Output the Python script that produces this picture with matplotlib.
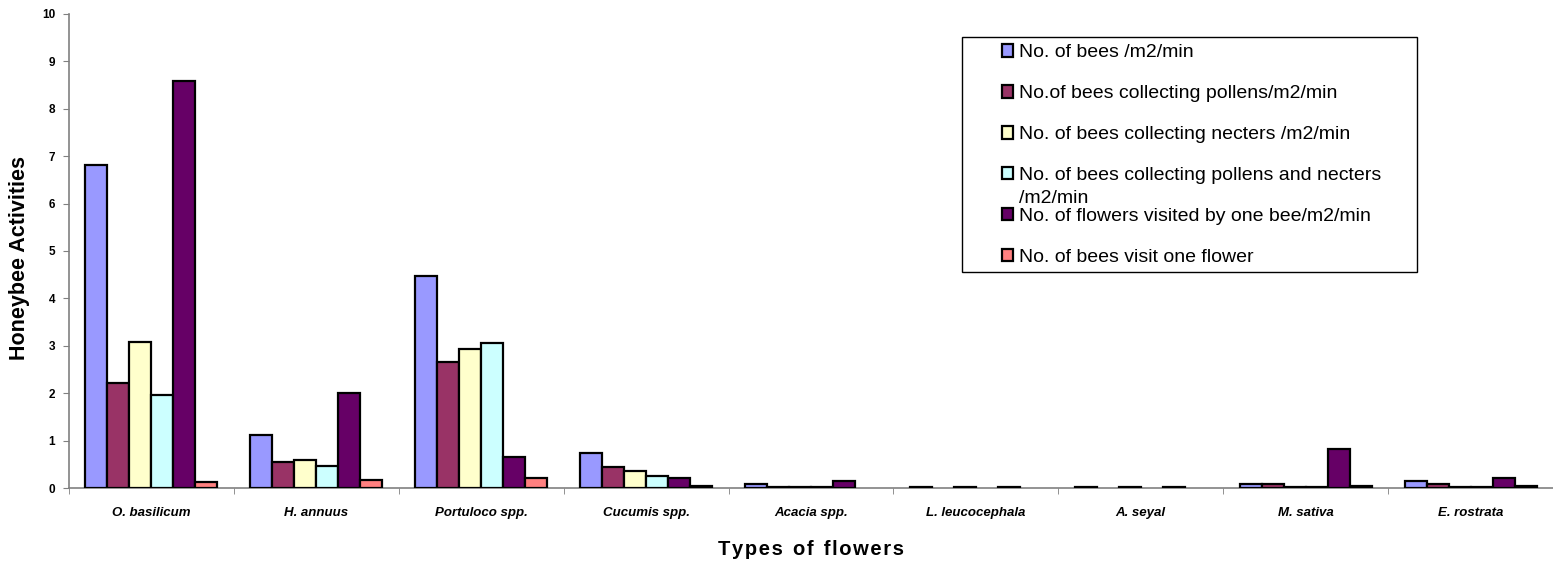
import matplotlib.pyplot as plt
from matplotlib.patches import Rectangle
import numpy as np

plt.rcParams['font.family'] = ['Liberation Sans', 'DejaVu Sans']

flowers = ["O. basilicum", "H. annuus", "Portuloco spp.", "Cucumis spp.",
           "Acacia spp.", "L. leucocephala", "A. seyal", "M. sativa", "E. rostrata"]

series_names = [
    "No. of bees /m2/min",
    "No.of bees collecting pollens/m2/min",
    "No. of bees collecting necters /m2/min",
    "No. of bees collecting pollens and necters",
    "No. of flowers visited by one bee/m2/min",
    "No. of bees visit one flower",
]

nan = np.nan
bees = [6.82, 1.12, 4.48, 0.74, 0.09, 0.03, 0.03, 0.09, 0.14]
pollen = [2.22, 0.55, 2.66, 0.44, 0.03, nan, nan, 0.09, 0.09]
necter = [3.08, 0.60, 2.93, 0.35, 0.03, 0.03, 0.03, 0.03, 0.03]
both = [1.96, 0.46, 3.05, 0.26, 0.03, nan, nan, 0.03, 0.03]
flowers_visited = [8.58, 2.00, 0.65, 0.22, 0.14, 0.03, 0.03, 0.83, 0.22]
visit_one = [0.13, 0.16, 0.22, 0.04, nan, nan, nan, 0.04, 0.04]

colors = ["#9999FF", "#993366", "#FFFFCC", "#CCFFFF", "#660066", "#FF8080"]

fig = plt.figure(figsize=(15.53, 5.66), dpi=100)
ax = fig.add_axes([0.0444, 0.1378, 0.9556, 0.8375])

data = [bees, pollen, necter, both, flowers_visited, visit_one]
n = len(data)
w = 0.8 / n
x = np.arange(len(flowers))
for k, vals in enumerate(data):
    ax.bar(x + 0.1 + k * w, vals, width=w, align='edge', color=colors[k],
           edgecolor='black', linewidth=1.6, label=series_names[k], zorder=3)

ax.set_xlim(0, len(flowers))
ax.set_ylim(0, 10)
ax.set_yticks(range(0, 11))
ax.set_yticklabels([str(v) for v in range(0, 11)], fontsize=8.5, fontweight='bold')
ax.set_xticks(x + 0.5)
ax.set_xticklabels(flowers, fontsize=9.5, fontweight='bold', fontstyle='italic')
ax.set_xticks(np.arange(0, len(flowers) + 1), minor=True)
ax.tick_params(axis='x', which='major', length=0, pad=14)
ax.tick_params(axis='x', which='minor', length=4, color='#808080')
ax.tick_params(axis='y', length=4, color='#808080', pad=6)

for s in ['top', 'right']:
    ax.spines[s].set_visible(False)
for s in ['left', 'bottom']:
    ax.spines[s].set_color('#808080')
    ax.spines[s].set_linewidth(1.2)

ax.set_ylabel("Honeybee Activities", fontsize=15.5, fontweight='bold')
ax.yaxis.set_label_coords(-0.0263, 0.485)
xlab = "T y p e s  o f  f l o w e r s".replace("  ", "\u2002").replace(" ", "\u200a")
ax.set_xlabel(xlab, fontsize=14.5, fontweight='bold')
ax.xaxis.set_label_coords(0.5, -0.11)

# legend box
ax.add_patch(Rectangle((0.6018, 0.4557), 0.3066, 0.4958, transform=ax.transAxes,
                       facecolor='white', edgecolor='black', linewidth=1.0,
                       zorder=4, clip_on=False))
leg = ax.legend(loc='upper left', bbox_to_anchor=(0.6285, 0.936), fontsize=14,
                frameon=False, handlelength=0.6, handleheight=0.6,
                handletextpad=0.3, labelspacing=1.23, borderpad=0,
                borderaxespad=0)
leg.set_zorder(5)
ax.annotate("/m2/min", xy=(0, 0), xycoords=leg.get_texts()[3],
            xytext=(0, -4), textcoords='offset points', va='top', ha='left',
            fontsize=14, zorder=6)

fig.savefig("out.png", dpi=100)
